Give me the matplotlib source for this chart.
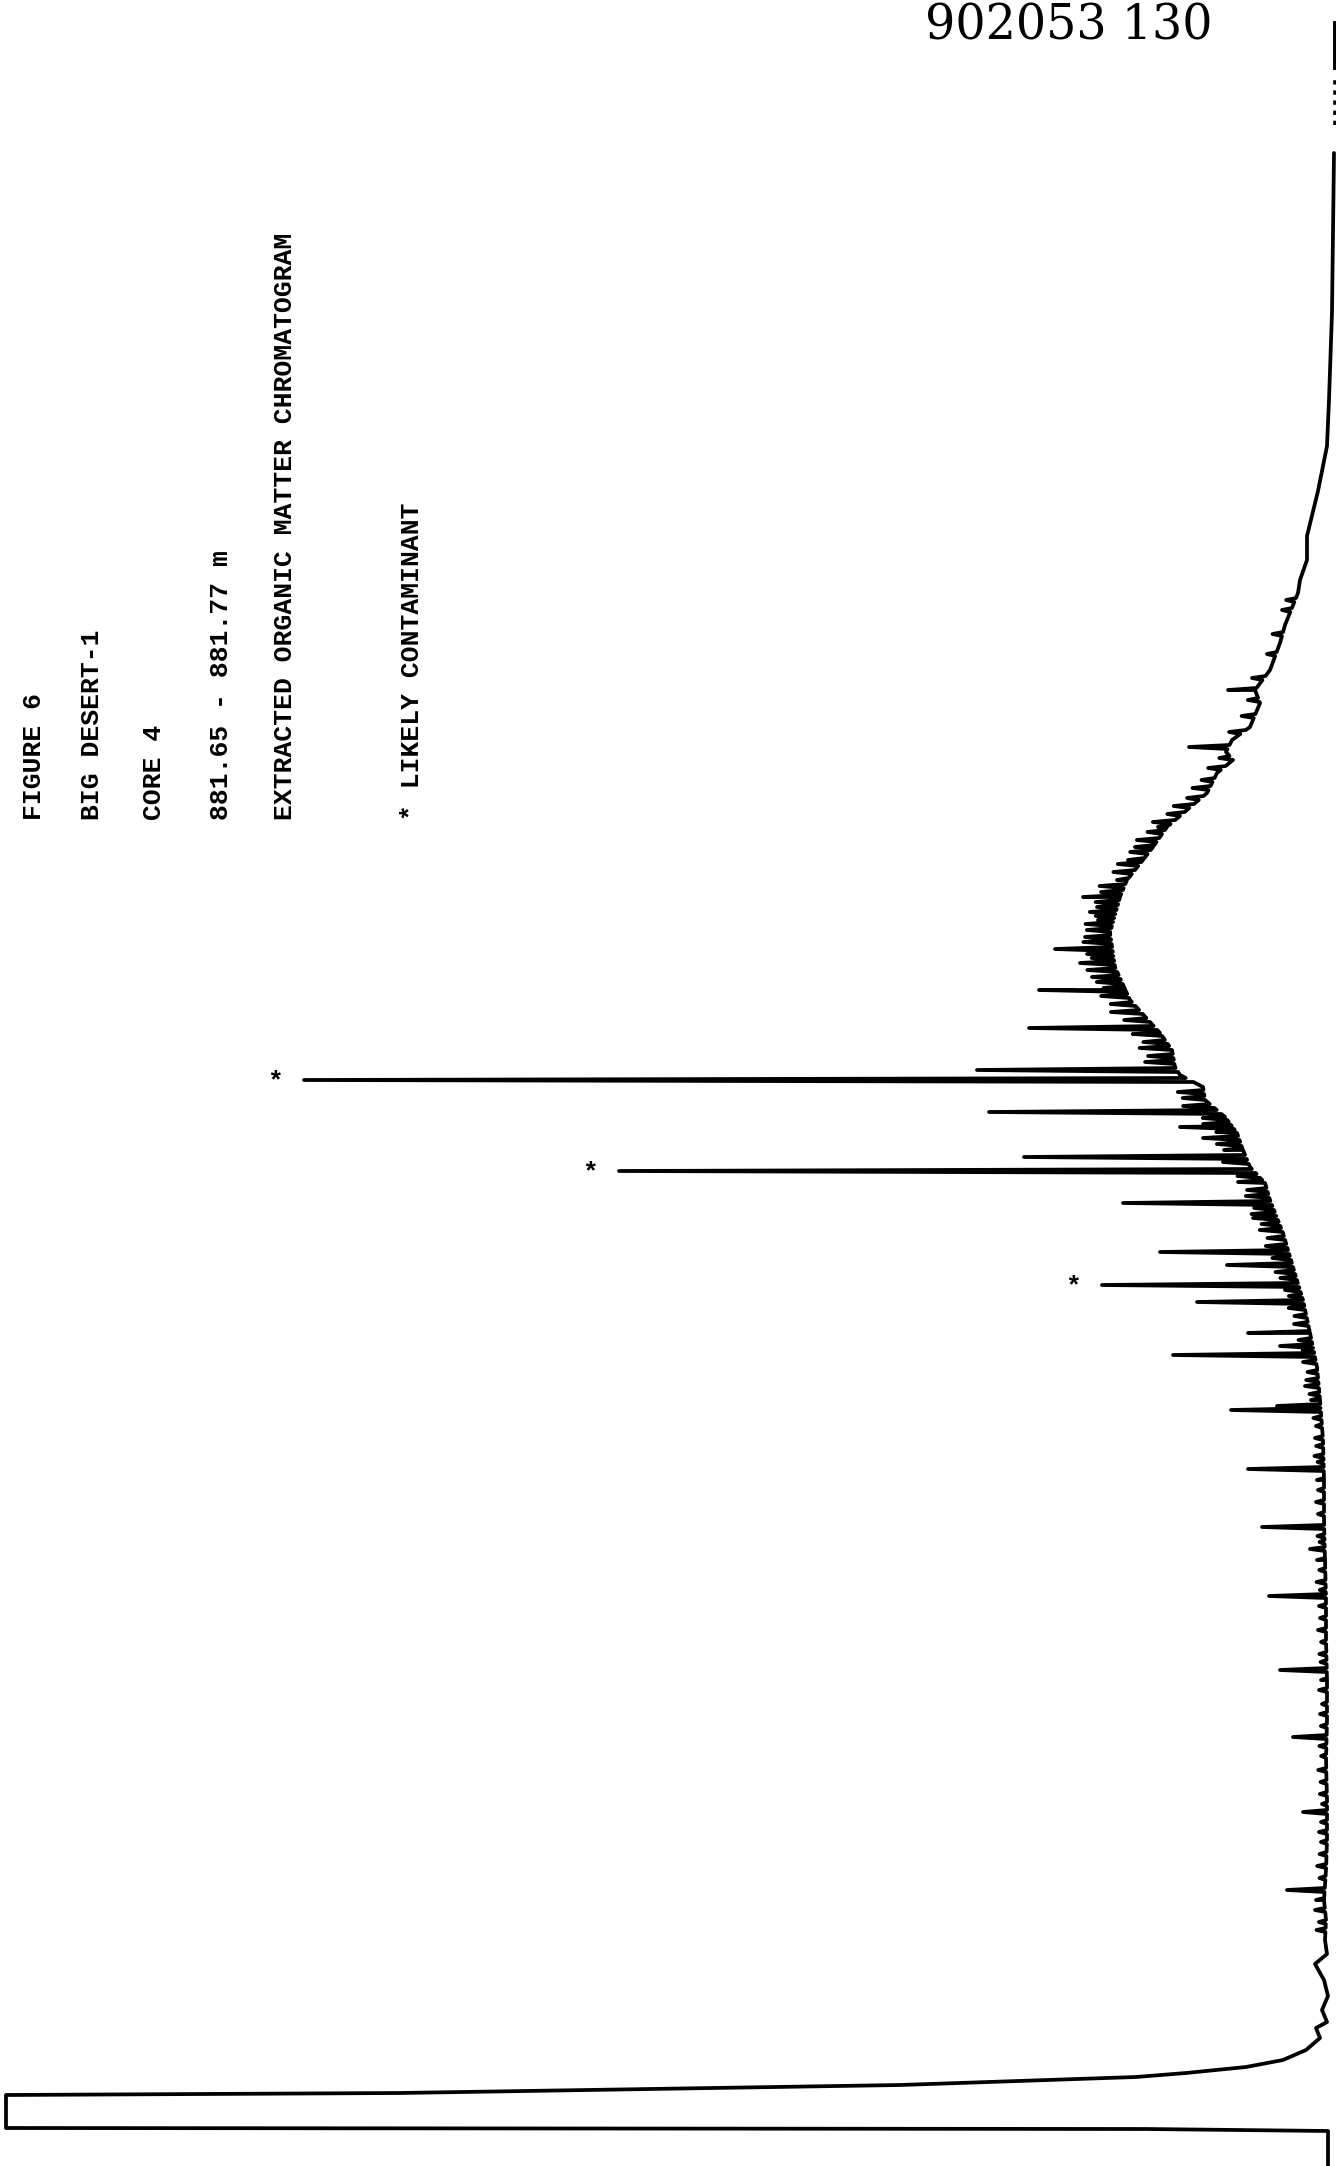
import numpy as np
import matplotlib.pyplot as plt

# retention time runs up the page (min), detector response runs to the left (% of pen travel)
# baseline / hump knots
base_t = [0.0, 1.75, 1.85, 1.9, 3.55, 3.65, 4.05, 4.45, 4.65, 4.95, 5.3, 5.8, 6.4,
          6.9, 7.2, 7.8, 8.5, 9.3, 10.1, 10.6, 11.3,
          12.3, 13.3, 14.8, 16.3, 18.3, 20.3, 22.3, 24.3, 26.3, 28.3, 30.3, 32.3, 34.3, 36.3, 38.3,
          39.95, 41.65, 43.3, 44.95, 46.65, 48.3, 49.15, 49.95, 50.8, 51.65, 52.45, 53.3, 53.95,
          54.55, 54.95, 55.8, 56.65, 58.3, 59.95, 61.65, 63.45, 64.3, 65.3, 65.95, 66.95, 67.8,
          68.65, 69.65, 70.3, 70.7, 71.3, 71.95, 73.15, 73.8, 74.8, 76.15, 77.05, 78.65, 79.3,
          80.3, 81.5, 83.75, 86.0, 88.3, 92.7, 100.65]
base_s = [0.8, 0.8, 19.0, 133.0, 133.0, 93.6, 43.6, 20.0, 15.0, 9.0, 5.3, 3.0, 1.6,
          2.0, 0.9, 1.4, 0.8, 1.2, 2.1, 0.9, 1.1,
          1.0, 1.2, 1.0, 0.9, 0.9, 1.0, 0.9, 0.9, 1.0, 1.0, 1.1, 1.2, 1.2, 1.3, 1.6,
          1.9, 2.6, 3.3, 4.3, 5.3, 6.6, 7.1, 8.6, 9.3, 9.9, 11.1, 13.1, 13.3,
          15.6, 16.1, 16.4, 17.6, 20.6, 22.1, 22.6, 21.6, 20.9, 19.3, 18.3, 16.9, 14.9,
          12.9, 11.9, 10.3, 11.0, 10.4, 8.6, 7.6, 8.1, 6.6, 5.6, 5.1, 3.8, 3.6,
          2.9, 2.9, 1.8, 0.9, 0.7, 0.4, 0.2]

# resolved peaks: retention time and apex response
peak_t = [13.8, 17.7, 21.45, 24.8, 28.5, 30.85, 31.95, 34.85, 36.4, 37.8, 38.0, 39.0,
          40.55, 41.0, 41.65, 43.2, 44.05, 45.05, 45.7, 47.4, 48.15, 49.75, 50.45,
          51.4, 51.95, 52.7, 54.3, 54.8, 56.9, 58.8, 59.45, 60.15, 60.85, 61.45,
          62.3, 62.95, 63.45, 64.3, 65.3, 65.95, 66.95, 70.95, 73.8, 77.8]
peak_s = [4.9, 3.3, 4.3, 5.6, 6.7, 2.6, 7.4, 8.8, 2.1, 10.5, 5.9, 3.1,
          16.3, 5.6, 8.8, 13.9, 23.4, 10.9, 17.6, 8.3, 21.3, 71.7, 31.2,
          13.3, 15.6, 34.7, 103.2, 35.9, 30.7, 29.7, 24.4, 25.6, 28.1, 25.1,
          23.8, 23.9, 25.3, 21.9, 20.8, 20.1, 17.8, 14.7, 10.8, 5.4]

# likely contaminants
star_t = [44.05, 49.75, 54.3]

# small unresolved peaks riding on the hump: time and height above baseline
minor_t = [11.8, 12.2, 12.8, 13.3, 14.4, 15.0, 15.6, 16.2, 16.7, 17.2, 18.1, 18.6, 19.2,
           19.8, 20.5, 21.0, 22.0, 22.6, 23.1, 23.8, 24.3, 25.2, 25.6, 26.2, 26.8, 27.4,
           28.0, 28.8, 29.2, 29.8, 30.3, 31.2, 31.5, 32.6, 33.2, 33.8, 34.3, 35.2, 35.5,
           36.0, 37.0, 37.4,
           38.3, 38.6, 39.3, 39.7, 40.2, 40.8, 41.3, 42.1, 42.5, 42.9, 43.5, 43.8,
           44.4, 44.7, 45.4, 46.0, 46.4, 46.8, 47.1, 47.6, 47.9, 48.5, 48.8, 49.2, 49.5,
           50.2, 50.8, 51.1, 51.7, 52.1, 52.4, 53.0, 53.4, 53.7,
           55.2, 55.5, 55.9, 56.2, 56.6, 57.3, 57.7, 58.1, 58.5, 58.9, 59.2, 59.8, 60.4,
           60.6, 61.2, 61.8, 62.1, 62.5, 62.7, 63.2, 63.7, 64.0, 64.7, 65.1, 65.7, 66.3,
           66.7, 67.2, 67.6, 68.0, 68.4, 68.9, 69.3, 69.9,
           70.4, 71.7, 72.5, 73.3, 74.4, 75.6, 76.6, 78.3]
minor_h = [0.9, 0.7, 1.0, 0.8, 0.6, 0.9, 0.7, 0.6, 0.8, 0.6, 0.5, 0.7, 0.6,
           0.8, 0.5, 0.7, 0.6, 0.7, 0.5, 0.8, 0.6, 0.6, 0.7, 0.5, 0.8, 0.6,
           0.7, 0.6, 0.9, 0.6, 0.8, 0.5, 0.7, 0.6, 0.8, 0.6, 0.7, 0.6, 0.9,
           0.7, 0.6, 0.8,
           0.9, 1.0, 1.2, 1.0, 1.3, 1.1, 1.3, 1.4, 1.2, 1.6, 1.3, 1.5,
           1.6, 1.9, 1.8, 2.1, 1.7, 2.2, 1.8, 2.4, 1.9, 2.3, 2.0, 2.6, 2.1,
           2.5, 1.9, 2.4, 2.0, 2.7, 2.3, 2.9, 2.2, 2.6,
           2.9, 2.5, 3.1, 2.3, 2.8, 2.4, 3.0, 2.3, 2.7, 2.1, 2.5, 2.9, 2.2,
           2.6, 2.8, 2.4, 2.7, 1.9, 2.6, 2.3, 2.1, 2.5, 2.0, 2.2, 1.9, 2.1,
           1.6, 2.0, 1.5, 1.8, 1.4, 1.7, 1.2, 1.5,
           1.2, 1.4, 1.3, 1.1, 1.2, 0.9, 1.0, 0.9]

# pen-skip marks at the end of the run
tail_t = [102.05, 104.4]
end_t = [104.9, 107.15]
end_s = 0.1

header = ["FIGURE 6", "BIG DESERT-1", "CORE 4", "881.65 - 881.77 m",
          "EXTRACTED ORGANIC MATTER CHROMATOGRAM", "", "* LIKELY CONTAMINANT"]
header_x = [0.0255, 0.069, 0.1155, 0.1655, 0.2135, None, 0.3085]
stamp = "902053 130"

W = 0.1  # half width of a spike at its foot (min)
LABEL_FONT = dict(family="Liberation Mono", fontsize=19, fontweight="bold")

bt = np.array(base_t)
bs = np.array(base_s)
pt = np.array(peak_t)
ps = np.array(peak_s)
mt = np.array(minor_t)
mh = np.array(minor_h)

t_all = np.concatenate([bt, pt - W, pt, pt + W, mt - W, mt, mt + W])
s_all = np.concatenate([bs,
                        np.interp(pt - W, bt, bs), ps, np.interp(pt + W, bt, bs),
                        np.interp(mt - W, bt, bs), np.interp(mt, bt, bs) + mh,
                        np.interp(mt + W, bt, bs)])
order = np.argsort(t_all, kind="stable")
t_all = t_all[order]
s_all = s_all[order]

fig = plt.figure(figsize=(13.36, 21.66), dpi=100)
ax = fig.add_axes([0, 0, 1, 1])
ax.set_xlim(133.6, 0)
ax.set_ylim(0, 108.3)
ax.axis("off")

ax.plot(s_all, t_all, color="black", lw=2.7, solid_joinstyle="round",
        solid_capstyle="round", clip_on=False)
ax.plot([end_s, end_s], tail_t, color="black", lw=2.6, ls=(0, (1.2, 1.6)))
ax.plot([end_s, end_s], end_t, color="black", lw=2.8)

for st in star_t:
    apex = ps[np.argmin(np.abs(pt - st))]
    ax.annotate("*", xy=(apex, st), xytext=(-21, -1), textcoords="offset points",
                ha="center", va="center", **LABEL_FONT)

for txt, x in zip(header, header_x):
    if not txt:
        continue
    fig.text(x, 1 - 820 / 2166, txt, rotation=90, ha="center", va="bottom",
             **LABEL_FONT)

fig.text(925 / 1336, 1 - 40 / 2166, stamp, ha="left", va="baseline",
         fontsize=34.3, family="DejaVu Serif")

fig.savefig("out.png", dpi=100, facecolor="white")
